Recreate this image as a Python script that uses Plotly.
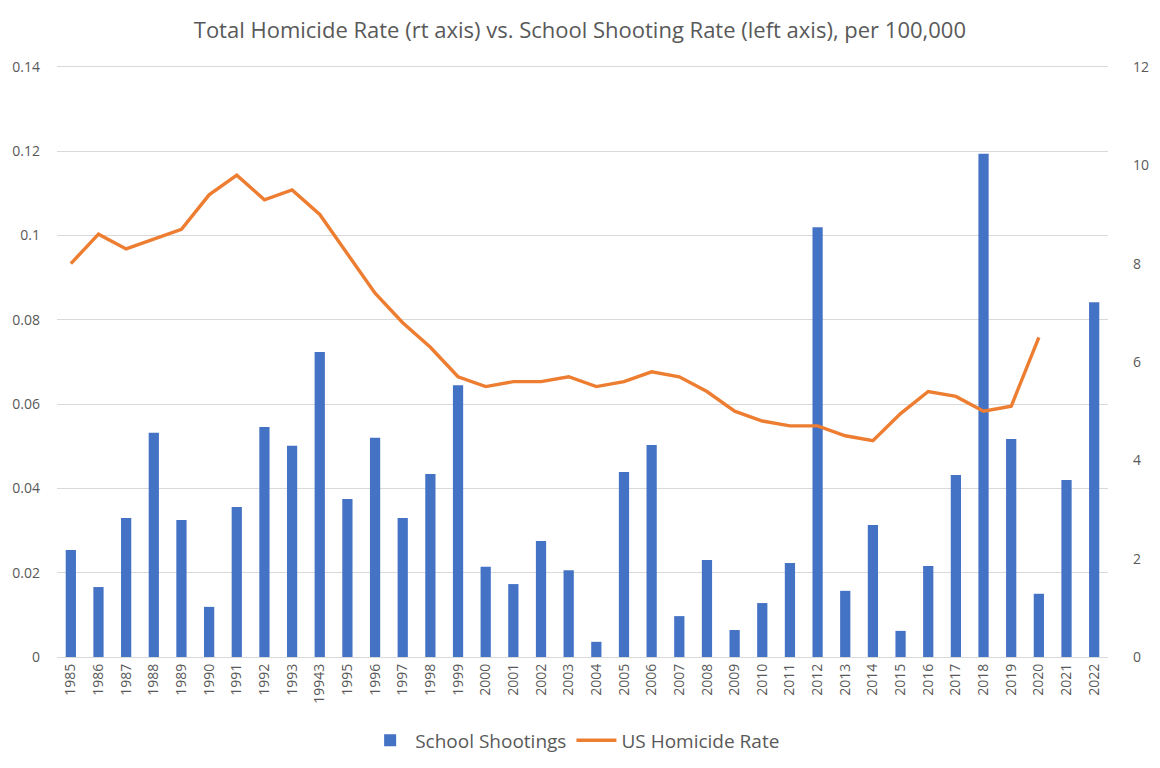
import plotly.graph_objects as go

years = ["1985","1986","1987","1988","1989","1990","1991","1992","1993","19943",
         "1995","1996","1997","1998","1999","2000","2001","2002","2003","2004",
         "2005","2006","2007","2008","2009","2010","2011","2012","2013","2014",
         "2015","2016","2017","2018","2019","2020","2021","2022"]

school_shootings = [0.0254,0.0166,0.0330,0.0532,0.0325,0.0119,0.0356,0.0546,0.0501,0.0724,
                    0.0375,0.0520,0.0330,0.0434,0.0645,0.0214,0.0173,0.0275,0.0206,0.0036,
                    0.0439,0.0503,0.0097,0.0230,0.0064,0.0128,0.0223,0.1020,0.0157,0.0313,
                    0.0062,0.0216,0.0432,0.1194,0.0517,0.0150,0.0420,0.0842]

homicide_rate = [8.0,8.6,8.3,8.5,8.7,9.4,9.8,9.3,9.5,9.0,
                 8.2,7.4,6.8,6.3,5.7,5.5,5.6,5.6,5.7,5.5,
                 5.6,5.8,5.7,5.4,5.0,4.8,4.7,4.7,4.5,4.4,
                 4.95,5.4,5.3,5.0,5.1,6.5,None,None]

left_ticks = [0, 0.02, 0.04, 0.06, 0.08, 0.1, 0.12, 0.14]
left_labels = ["0", "0.02", "0.04", "0.06", "0.08", "0.1", "0.12", "0.14"]
right_ticks = [0, 2, 4, 6, 8, 10, 12]

font_family = "Open Sans, Noto Sans, sans-serif"
tick_color = "#595959"

fig = go.Figure()
fig.add_trace(go.Bar(
    x=years, y=school_shootings, name="School Shootings",
    marker=dict(color="#4472C4", line=dict(width=0)),
    yaxis="y",
))
fig.add_trace(go.Scatter(
    x=years, y=homicide_rate, name="US Homicide Rate",
    mode="lines", line=dict(color="#ED7D31", width=3.4),
    connectgaps=False, yaxis="y2",
))

fig.update_layout(
    width=1160, height=768,
    paper_bgcolor="white", plot_bgcolor="white",
    margin=dict(l=49, r=60, t=57, b=119),
    bargap=0.63,
    title=dict(
        text="Total Homicide Rate (rt axis) vs. School Shooting Rate (left axis), per 100,000",
        x=0.493, xanchor="center", y=0.971, yanchor="middle",
        font=dict(family=font_family, size=22, color=tick_color),
    ),
    font=dict(family=font_family, color=tick_color),
    xaxis=dict(
        type="category", tickangle=-90, automargin=False,
        tickfont=dict(size=14, color=tick_color),
        showgrid=False, showline=True, linecolor="#d9d9d9", linewidth=1.3,
        ticks="", ticklen=0,
    ),
    yaxis=dict(
        range=[0, 0.14047], tickvals=left_ticks, ticktext=left_labels,
        tickfont=dict(size=14, color=tick_color), ticklabelstandoff=16,
        automargin=False,
        showgrid=True, gridcolor="#d9d9d9", gridwidth=1.3,
        zeroline=False, showline=False, ticks="",
    ),
    yaxis2=dict(
        range=[0, 12.041], tickvals=right_ticks, overlaying="y", side="right",
        tickfont=dict(size=14, color=tick_color), ticklabelstandoff=24,
        automargin=False,
        showgrid=False, zeroline=False, showline=False, ticks="",
    ),
    legend=dict(
        orientation="h", x=0.493, xanchor="center", y=-0.141, yanchor="middle",
        font=dict(size=19, color=tick_color), bgcolor="rgba(0,0,0,0)",
        itemwidth=40,
    ),
    showlegend=True,
)

fig.write_html("out.html")
